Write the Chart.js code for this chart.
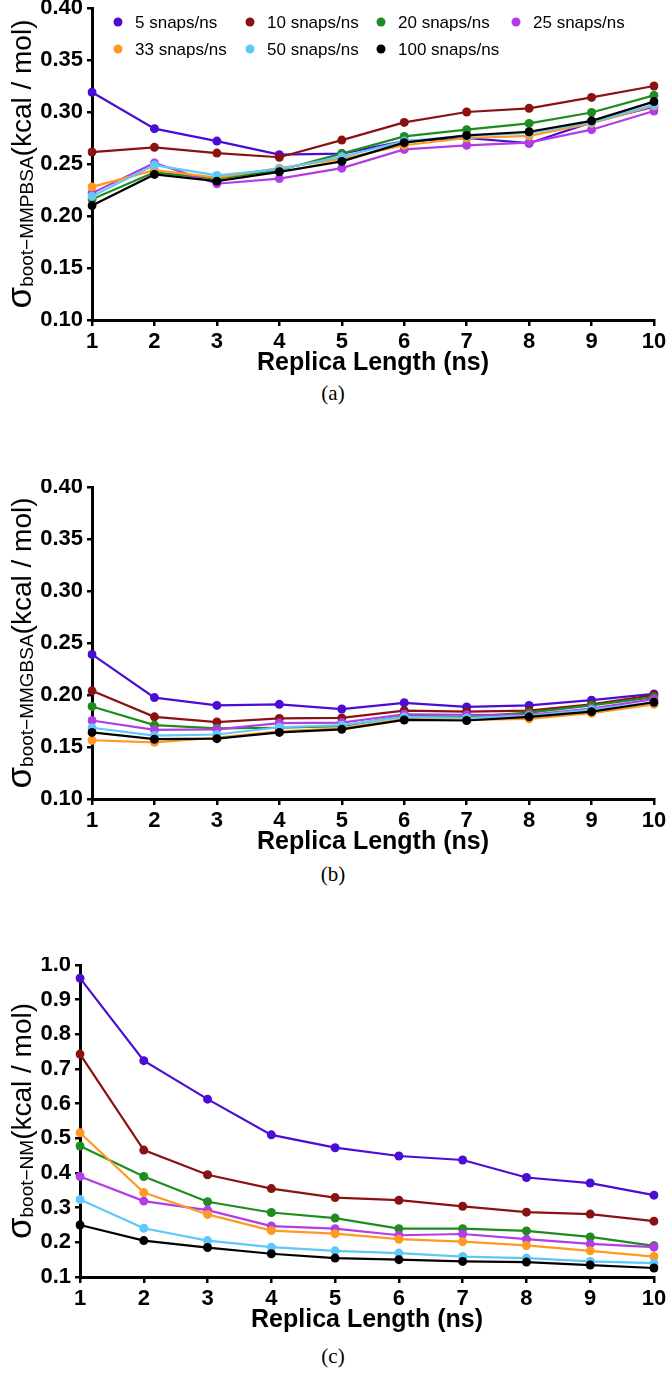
<!DOCTYPE html>
<html>
<head>
<meta charset="utf-8">
<script src="https://cdn.jsdelivr.net/npm/chart.js@4.4.1/dist/chart.umd.min.js"></script>
<style>
  body { margin: 0; background: #fff; width: 666px; height: 1390px; position: relative; overflow: hidden; }
  canvas { position: absolute; left: 0; }
  .cap { position: absolute; left: 0; width: 666px; text-align: center; font: 21px "Liberation Serif", serif; color: #000; line-height: 24px; }
</style>
</head>
<body>
<canvas id="chartA" width="666" height="380" style="top:0px"></canvas>
<div class="cap" style="top:381px">(a)</div>
<canvas id="chartB" width="666" height="380" style="top:479px"></canvas>
<div class="cap" style="top:862px">(b)</div>
<canvas id="chartC" width="666" height="380" style="top:957px"></canvas>
<div class="cap" style="top:1344px">(c)</div>
<script>
// 数据
const replicas = [1, 2, 3, 4, 5, 6, 7, 8, 9, 10];
const seriesNames = ['5 snaps/ns', '10 snaps/ns', '20 snaps/ns', '25 snaps/ns', '33 snaps/ns', '50 snaps/ns', '100 snaps/ns'];
const seriesColors = ['#4b0cd6', '#8b1212', '#1e8c1e', '#b23ce6', '#ff9922', '#5ec8f8', '#000000'];

// (a) MMPBSA
const pb5   = [0.319, 0.284, 0.272, 0.259, 0.260, 0.272, 0.275, 0.270, 0.290, 0.305];
const pb10  = [0.2615, 0.266, 0.2605, 0.2565, 0.273, 0.290, 0.300, 0.3035, 0.314, 0.325];
const pb20  = [0.216, 0.242, 0.236, 0.244, 0.260, 0.2765, 0.283, 0.289, 0.2995, 0.316];
const pb25  = [0.222, 0.251, 0.231, 0.236, 0.246, 0.264, 0.268, 0.2705, 0.283, 0.301];
const pb33  = [0.228, 0.244, 0.237, 0.246, 0.255, 0.268, 0.275, 0.277, 0.289, 0.306];
const pb50  = [0.219, 0.249, 0.239, 0.245, 0.257, 0.272, 0.277, 0.280, 0.290, 0.307];
const pb100 = [0.210, 0.240, 0.2335, 0.2425, 0.2525, 0.2705, 0.2775, 0.281, 0.2915, 0.310];

// (b) MMGBSA
const gb5   = [0.239, 0.1975, 0.190, 0.191, 0.1865, 0.1925, 0.1885, 0.190, 0.195, 0.201];
const gb10  = [0.204, 0.179, 0.174, 0.1775, 0.178, 0.185, 0.184, 0.185, 0.191, 0.200];
const gb20  = [0.189, 0.171, 0.168, 0.1685, 0.170, 0.180, 0.179, 0.183, 0.190, 0.198];
const gb25  = [0.1755, 0.1665, 0.167, 0.173, 0.1735, 0.1815, 0.181, 0.181, 0.187, 0.196];
const gb33  = [0.1565, 0.1545, 0.159, 0.165, 0.168, 0.177, 0.176, 0.177, 0.1825, 0.191];
const gb50  = [0.1685, 0.161, 0.162, 0.169, 0.171, 0.179, 0.178, 0.180, 0.186, 0.193];
const gb100 = [0.164, 0.1575, 0.158, 0.164, 0.167, 0.176, 0.1755, 0.179, 0.184, 0.193];

// (c) NM
const nm5   = [0.962, 0.724, 0.613, 0.510, 0.473, 0.449, 0.4375, 0.387, 0.371, 0.336];
const nm10  = [0.743, 0.466, 0.395, 0.355, 0.329, 0.3215, 0.304, 0.287, 0.2815, 0.261];
const nm20  = [0.478, 0.390, 0.317, 0.286, 0.270, 0.2395, 0.2395, 0.233, 0.2155, 0.190];
const nm25  = [0.390, 0.319, 0.293, 0.247, 0.2395, 0.2205, 0.224, 0.209, 0.1955, 0.186];
const nm33  = [0.516, 0.3435, 0.2805, 0.234, 0.225, 0.209, 0.202, 0.191, 0.1755, 0.159];
const nm50  = [0.3235, 0.2405, 0.205, 0.186, 0.1755, 0.169, 0.159, 0.1545, 0.145, 0.140];
const nm100 = [0.250, 0.205, 0.185, 0.167, 0.1545, 0.150, 0.145, 0.143, 0.1345, 0.126];

const FONT = '"Liberation Sans", Arial, sans-serif';

// 纵轴标题: σ + 下标 + (kcal/mol)
const yTitlePlugin = {
    id: 'yTitle',
    afterDraw(chart, args, opts) {
        const ctx = chart.ctx;
        const area = chart.chartArea;
        const parts = [
            { text: 'σ', font: '35px ' + FONT, shift: 0 },
            { text: opts.sub, font: '19px ' + FONT, shift: 2 },
            { text: '(kcal / mol)', font: '28px ' + FONT, shift: 0 }
        ];
        ctx.save();
        let total = 0;
        parts.forEach(p => { ctx.font = p.font; p.w = ctx.measureText(p.text).width; total += p.w; });
        const cy = (area.top + area.bottom) / 2;
        ctx.translate(31, cy);
        ctx.rotate(-Math.PI / 2);
        ctx.fillStyle = '#000';
        ctx.textBaseline = 'alphabetic';
        let x = -total / 2;
        parts.forEach(p => {
            ctx.font = p.font;
            ctx.fillText(p.text, x, p.shift);
            x += p.w;
        });
        ctx.restore();
    }
};

// 图例 (只在图a)
const gridLegendPlugin = {
    id: 'gridLegend',
    afterDraw(chart, args, opts) {
        if (!opts.show) return;
        const ctx = chart.ctx;
        const colX = [118, 250, 381, 516];
        const rowY = [22, 49];
        ctx.save();
        ctx.font = '17px ' + FONT;
        ctx.textBaseline = 'middle';
        chart.data.datasets.forEach((ds, i) => {
            const x = colX[i % 4];
            const y = rowY[Math.floor(i / 4)];
            ctx.fillStyle = ds.borderColor;
            ctx.beginPath();
            ctx.arc(x, y, 4.5, 0, Math.PI * 2);
            ctx.fill();
            ctx.fillStyle = '#000';
            ctx.fillText(ds.label, x + 17, y + 1);
        });
        ctx.restore();
    }
};

function makeChart(id, seriesList, yMin, yMax, yStep, digits, plotLeft, sub, showLegend) {
    const ctx = document.getElementById(id).getContext('2d');
    const datasets = seriesList.map((vals, i) => ({
        label: seriesNames[i],
        data: vals,
        borderColor: seriesColors[i],
        backgroundColor: seriesColors[i],
        borderWidth: 2.2,
        pointRadius: 4.5,
        pointBorderWidth: 0,
        pointHoverRadius: 4.5,
        tension: 0,
        order: seriesList.length - i
    }));
    return new Chart(ctx, {
        type: 'line',
        data: { labels: replicas, datasets: datasets },
        options: {
            responsive: false,
            animation: false,
            layout: { padding: { top: 8, right: 12, left: 0, bottom: 0 } },
            plugins: {
                legend: { display: false },
                tooltip: { enabled: false },
                yTitle: { sub: sub },
                gridLegend: { show: showLegend }
            },
            scales: {
                x: {
                    z: 1,
                    offset: false,
                    grid: { drawOnChartArea: false, drawTicks: true, tickLength: 6, lineWidth: 2.5, color: '#000' },
                    border: { display: true, width: 3, color: '#000' },
                    ticks: { color: '#000', padding: 3, maxRotation: 0, font: { family: FONT, size: 22, weight: 'bold' } },
                    title: {
                        display: true,
                        text: 'Replica Length (ns)',
                        color: '#000',
                        padding: { top: 0, bottom: 2 },
                        font: { family: FONT, size: 25, weight: 'bold' }
                    },
                    afterFit(scale) {
                        scale.height = 380 - 320;
                        scale.paddingLeft = 0;
                        scale.paddingRight = 0;
                    }
                },
                y: {
                    z: 1,
                    min: yMin,
                    max: yMax,
                    grid: { drawOnChartArea: false, drawTicks: true, tickLength: 5, lineWidth: 2.5, color: '#000' },
                    border: { display: true, width: 3, color: '#000' },
                    ticks: {
                        stepSize: yStep,
                        color: '#000',
                        padding: 4,
                        font: { family: FONT, size: 22, weight: 'bold' },
                        callback: v => Number(v).toFixed(digits)
                    },
                    afterFit(scale) {
                        scale.width = plotLeft;
                        scale.paddingTop = 0;
                        scale.paddingBottom = 0;
                    }
                }
            }
        },
        plugins: [yTitlePlugin, gridLegendPlugin]
    });
}

makeChart('chartA', [pb5, pb10, pb20, pb25, pb33, pb50, pb100], 0.10, 0.40, 0.05, 2, 92, 'boot\u2212MMPBSA', true);
makeChart('chartB', [gb5, gb10, gb20, gb25, gb33, gb50, gb100], 0.10, 0.40, 0.05, 2, 92, 'boot\u2212MMGBSA', false);
makeChart('chartC', [nm5, nm10, nm20, nm25, nm33, nm50, nm100], 0.1, 1.0, 0.1, 1, 80, 'boot\u2212NM', false);
</script>
</body>
</html>
